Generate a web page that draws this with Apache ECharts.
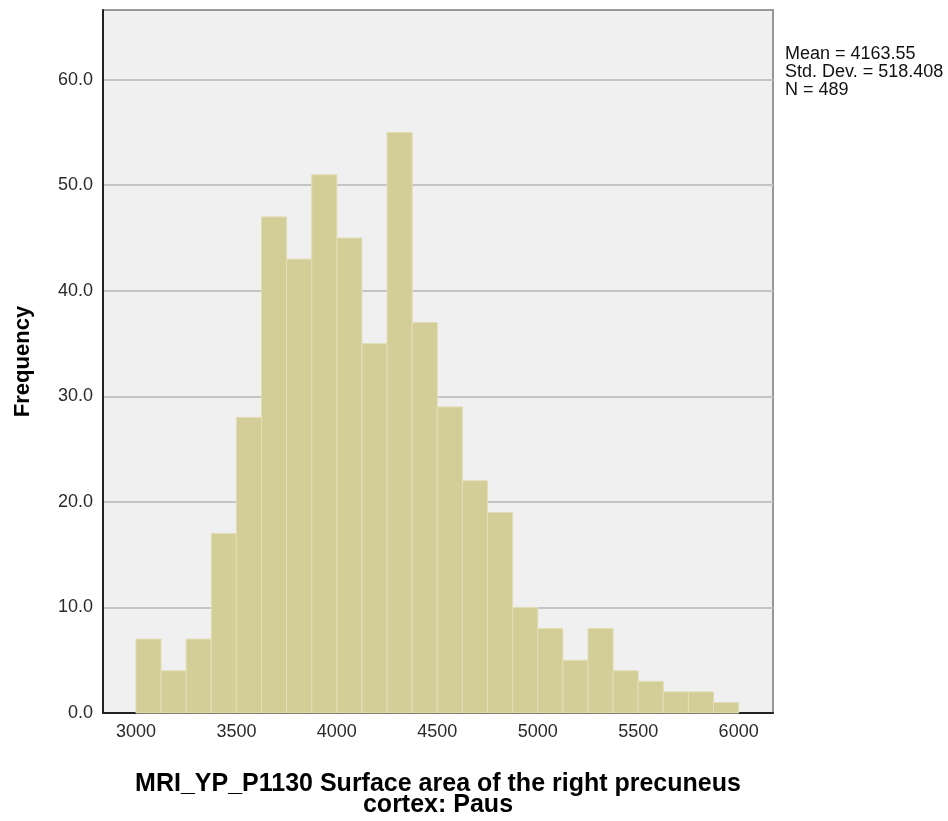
<!DOCTYPE html>
<html>
<head>
<meta charset="utf-8">
<script src="https://cdn.jsdelivr.net/npm/echarts@6/dist/echarts.min.js"></script>
<style>
html,body{margin:0;padding:0;background:#fff;}
#chart{width:948px;height:821px;}
</style>
</head>
<body>
<div id="chart"></div>
<script>
var binEdges = [3000,3125,3250,3375,3500,3625,3750,3875,4000,4125,4250,4375,4500,4625,4750,4875,5000,5125,5250,5375,5500,5625,5750,5875,6000];
var counts = [7,4,7,17,28,47,43,51,45,35,55,37,29,22,19,10,8,5,8,4,3,2,2,1];
var xTicks = [3000,3500,4000,4500,5000,5500,6000];
var yTicks = [0,10,20,30,40,50,60];
var statsLines = ['Mean = 4163.55','Std. Dev. = 518.408','N = 489'];
var xTitle = 'MRI_YP_P1130 Surface area of the right precuneus\ncortex: Paus';
var yTitle = 'Frequency';

var data = counts.map(function(c,i){ return [binEdges[i], binEdges[i+1], c]; });
var FONT = '"Liberation Sans", Arial, sans-serif';

var chart = echarts.init(document.getElementById('chart'), null, {renderer:'canvas'});
chart.setOption({
  animation:false,
  backgroundColor:'#ffffff',
  grid:{left:103, right:175, top:10, bottom:108, show:true, backgroundColor:'#f0f0f0', borderColor:'#999999', borderWidth:2, containLabel:false, outerBoundsMode:'none'},
  title:[{
    text: statsLines.join('\n'),
    left:785, top:45, padding:0,
    textStyle:{fontFamily:FONT, fontSize:18, fontWeight:'normal', color:'#111', lineHeight:18}
  }],
  xAxis:{
    type:'value', min:2836, max:6171,
    name:xTitle, nameLocation:'middle', nameGap:61, nameMoveOverlap:false,
    nameTextStyle:{fontFamily:FONT, fontSize:25, fontWeight:'bold', color:'#000', lineHeight:21},
    axisLine:{show:true, onZero:false, lineStyle:{color:'#222', width:2}},
    axisTick:{show:false, customValues:xTicks},
    axisLabel:{customValues:xTicks, fontFamily:FONT, fontSize:18, color:'#2a2a2a', margin:10,
      formatter:function(v){return String(v);}},
    splitLine:{show:false}
  },
  yAxis:{
    type:'value', min:0, max:66.6,
    name:yTitle, nameLocation:'middle', nameGap:69, nameRotate:90, nameMoveOverlap:false,
    nameTextStyle:{fontFamily:FONT, fontSize:22, fontWeight:'bold', color:'#000'},
    axisLine:{show:true, lineStyle:{color:'#222', width:2}},
    axisTick:{show:false, customValues:yTicks},
    axisLabel:{customValues:yTicks, fontFamily:FONT, fontSize:18, color:'#2a2a2a', margin:10,
      formatter:function(v){return v.toFixed(1);}},
    splitLine:{show:true, lineStyle:{color:'#c4c4c4', width:2}}
  },
  series:[{
    type:'custom',
    data:data,
    encode:{x:[0,1], y:2},
    renderItem:function(params, api){
      var p0 = api.coord([api.value(0), 0]);
      var p1 = api.coord([api.value(1), api.value(2)]);
      return {
        type:'rect',
        shape:{x:p0[0], y:p1[1], width:p1[0]-p0[0], height:p0[1]-p1[1]},
        style:{fill:'#d3ce98', stroke:'#e2deb6', lineWidth:1}
      };
    }
  }]
});
</script>
</body>
</html>
